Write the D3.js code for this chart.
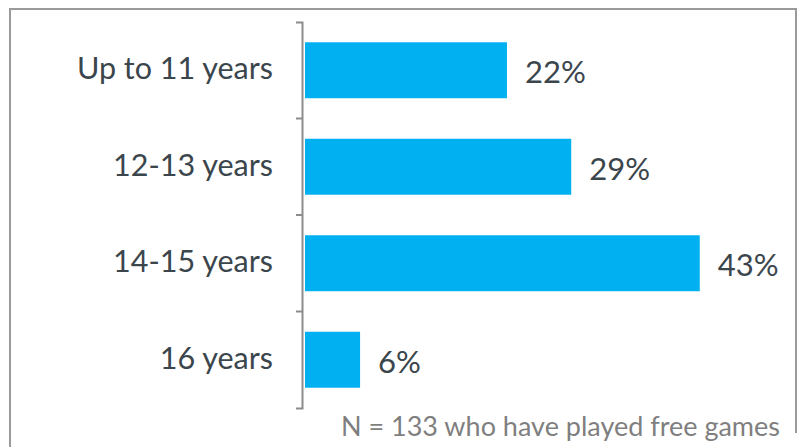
<!DOCTYPE html>
<html>
<head>
<meta charset="utf-8">
<script src="https://cdn.jsdelivr.net/npm/d3@7"></script>
<style>
  html, body { margin: 0; padding: 0; background: #fff; }
  svg { display: block; }
  text { font-family: Lato, "Open Sans", sans-serif; }
</style>
</head>
<body>
<svg id="chart" width="800" height="447"></svg>
<script>
// Age at which free games were first played
const categories = ["Up to 11 years", "12-13 years", "14-15 years", "16 years"];
const shares = [22, 29, 43, 6];
const valueLabels = ["22%", "29%", "43%", "6%"];
const footnote = "N = 133 who have played free games";

const svg = d3.select("#chart");

// Frame around the chart
const frame = svg.append("g")
  .attr("fill", "none")
  .attr("stroke", "#9a9a9a")
  .attr("stroke-width", 2);
frame.append("path").attr("d", "M10,447V9H796V433");

const y = d3.scaleBand()
  .domain(categories)
  .range([22, 408])
  .paddingInner(0.42)
  .paddingOuter(0.21);

const x = d3.scaleLinear()
  .domain([0, 50])
  .range([305, 764]);

const axisX = 302;

// Category axis: bracket-shaped domain with ticks between categories
const axis = svg.append("g")
  .attr("transform", `translate(${axisX},0)`)
  .call(d3.axisLeft(y).tickSize(0).tickSizeOuter(6).tickPadding(29));

axis.select(".domain")
  .attr("stroke", "#8c8c8c")
  .attr("stroke-width", 2);

axis.selectAll(".tick text")
  .attr("fill", "#3b464c")
  .attr("font-size", 30.5)
  .attr("dy", "0.3em");

const step = y.step();
const boundaries = d3.range(1, categories.length).map(i => y.range()[0] + i * step);
axis.selectAll(".sep")
  .data(boundaries)
  .join("line")
  .attr("class", "sep")
  .attr("x1", -6).attr("x2", 0)
  .attr("y1", d => d).attr("y2", d => d)
  .attr("stroke", "#8c8c8c")
  .attr("stroke-width", 2);

// Bars
svg.append("g")
  .selectAll("rect")
  .data(categories)
  .join("rect")
  .attr("x", x(0))
  .attr("y", d => y(d))
  .attr("width", (d, i) => x(shares[i]) - x(0))
  .attr("height", y.bandwidth())
  .attr("fill", "#00b0f0");

// Value labels
svg.append("g")
  .selectAll("text")
  .data(categories)
  .join("text")
  .attr("x", (d, i) => x(shares[i]) + 18)
  .attr("y", d => y(d) + y.bandwidth() / 2)
  .attr("dy", "0.42em")
  .attr("fill", "#3b464c")
  .attr("font-size", 31)
  .text((d, i) => valueLabels[i]);

// Sample note
svg.append("text")
  .attr("x", 780)
  .attr("y", 436)
  .attr("text-anchor", "end")
  .attr("fill", "#7f7f7f")
  .attr("font-size", 27)
  .text(footnote);
</script>
</body>
</html>
